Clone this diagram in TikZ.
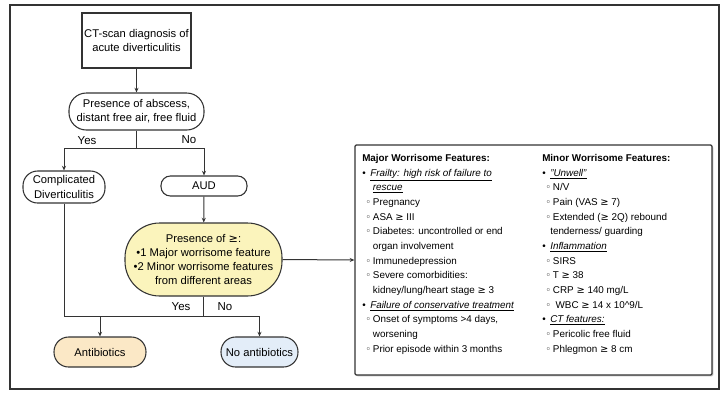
\documentclass[tikz,border=0pt]{standalone}
\usepackage{fontspec}
\setmainfont{Liberation Sans}
\newfontfamily\symf{DejaVu Sans}
\usetikzlibrary{arrows.meta,shadows}
\definecolor{ink}{HTML}{333333}
\definecolor{abxfill}{HTML}{FBE8C6}
\definecolor{noabxfill}{HTML}{E3EDF8}
\definecolor{critfill}{HTML}{FBF4BC}
% the "greater or equal" sign, taken from a font that has it
\newcommand\gsym{{\symf ≥}}
% list helpers for the feature columns
\newcommand\ftop[1]{\makebox[6pt][l]{•}#1}
\newcommand\fsub[1]{\hspace*{2.5pt}\makebox[5.5pt][l]{\symf\scriptsize ◦}#1}
\newcommand\fcont[1]{\hspace*{8pt}#1}
\newcommand\ful[1]{\underline{\textit{#1}}}
\begin{document}
\begin{tikzpicture}[x=0.75pt,y=-0.75pt,
  every node/.style={font=\fontsize{8.4}{10.6}\selectfont, text=black, inner sep=0pt, align=center},
  flow/.style={draw=ink, line width=0.8pt, fill=white},
  boxnode/.style={flow, rectangle},
  pill/.style={flow, rounded corners=#1},
  conn/.style={draw=ink, line width=0.75pt},
  arr/.style={conn, -{Stealth[length=3.5pt,width=3pt]}},
  lbl/.style={font=\fontsize{8.6}{10}\selectfont},
  col/.style={anchor=north west, align=left, font=\fontsize{7.4}{11}\selectfont}
]
\useasboundingbox (0,0) rectangle (724,394);
\fill[white] (0,0) rectangle (724,394);
% outer frame
\draw[ink, line width=1pt] (10,5) rectangle (719,389);

% flowchart nodes
\node[boxnode, minimum width=81.75pt, minimum height=41.25pt] (ct) at (136.5,40.5)
  {CT-scan diagnosis of\\acute diverticulitis};
\node[pill=13pt, minimum width=101.25pt, minimum height=27.75pt] (abs) at (136.5,111.5)
  {Presence of abscess,\\distant free air, free fluid};
\node[pill=11pt, minimum width=61.5pt, minimum height=24pt] (comp) at (64,187)
  {Complicated\\Diverticulitis};
\node[pill=7pt, minimum width=64.5pt, minimum height=15pt] (aud) at (204,186) {AUD};
\node[pill=26pt, fill=critfill, minimum width=117.75pt, minimum height=54.75pt] (crit) at (203.5,259.5)
  {Presence of \gsym:\\•1 Major worrisome feature\\•2 Minor worrisome features\\from different areas};
\node[pill=11pt, fill=abxfill, minimum width=69pt, minimum height=22.5pt] (abx) at (100,352) {Antibiotics};
\node[pill=11pt, fill=noabxfill, minimum width=57.75pt, minimum height=22.5pt] (noabx) at (259.5,352) {No antibiotics};

% worrisome features panel
\node[draw=ink, line width=0.9pt, fill=white, rounded corners=1pt,
      drop shadow={shadow xshift=1pt, shadow yshift=-1pt, fill=black!45},
      minimum width=267.75pt, minimum height=172.5pt] (feat) at (533.5,260) {};
\node[col] (major) at (362,154) {%
  \textbf{Major Worrisome Features:}\\
  \ftop{\ful{Frailty: high risk of failure to}}\\
  \fcont{\ful{rescue}}\\
  \fsub{Pregnancy}\\
  \fsub{ASA \gsym{} III}\\
  \fsub{Diabetes: uncontrolled or end}\\
  \fcont{organ involvement}\\
  \fsub{Immunedepression}\\
  \fsub{Severe comorbidities:}\\
  \fcont{kidney/lung/heart stage \gsym{} 3}\\
  \ftop{\ful{Failure of conservative treatment}}\\
  \fsub{Onset of symptoms >4 days,}\\
  \fcont{worsening}\\
  \fsub{Prior episode within 3 months}};
\node[col] (minor) at (542,154) {%
  \textbf{Minor Worrisome Features:}\\
  \ftop{\ful{"Unwell"}}\\
  \fsub{N/V}\\
  \fsub{Pain (VAS \gsym{} 7)}\\
  \fsub{Extended (\gsym{} 2Q) rebound}\\
  \hspace*{6pt}tenderness/ guarding\\
  \ftop{\ful{Inflammation}}\\
  \fsub{SIRS}\\
  \fsub{T \gsym{} 38}\\
  \fsub{CRP \gsym{} 140 mg/L}\\
  \fsub{\ WBC \gsym{} 14 x 10\^{}9/L}\\
  \ftop{\ful{CT features:}}\\
  \fsub{Pericolic free fluid}\\
  \fsub{Phlegmon \gsym{} 8 cm}};

% connectors
\coordinate (j1) at (136.5,148);
\coordinate (j2) at (203.5,316);
\draw[arr] (ct) -- (abs);
\draw[conn] (abs.south) -- (j1);
\draw[arr] (j1) -| (comp.north);
\draw[arr] (j1) -| (aud.north);
\draw[arr] (aud) -- (crit);
\draw[arr] (crit.east) -- (feat.west);
\draw[conn] (crit.south) -- (j2);
\draw[arr] (comp.south) |- (j2) -| (noabx.north);
\draw[arr] (abx.north |- j2) -- (abx.north);

% branch labels
\node[lbl] (yes1) at (87,141) {Yes};
\node[lbl] (no1) at (189,140) {No};
\node[lbl] (yes2) at (181,307) {Yes};
\node[lbl] (no2) at (225,307) {No};
\end{tikzpicture}
\end{document}
